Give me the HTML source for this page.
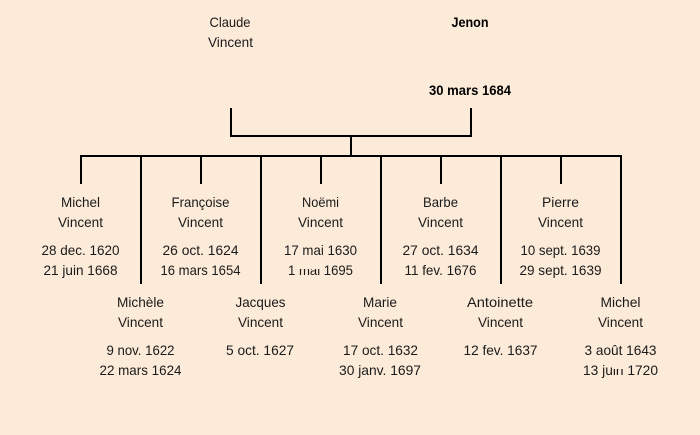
<!DOCTYPE html>
<html><head><meta charset="utf-8">
<style>
html,body{margin:0;padding:0;background:#fcebd9;width:700px;height:435px;overflow:hidden}
svg{display:block}
text{font-family:"Comic Sans MS","Liberation Sans","DejaVu Sans",sans-serif;font-size:14px;fill:#1a1a1a;text-anchor:middle}
.b{font-weight:bold;fill:#000}
</style></head><body>
<svg width="700" height="435" viewBox="0 0 700 435" xmlns="http://www.w3.org/2000/svg">
<rect width="700" height="435" fill="#fcebd9"/>
<g fill="#000">
<rect x="230" y="108" width="2" height="29"/>
<rect x="470" y="108" width="2" height="29"/>
<rect x="230" y="135" width="242" height="2"/>
<rect x="350" y="135" width="2" height="22"/>
<rect x="80" y="155" width="542" height="2"/>
<rect x="80" y="155" width="2" height="29"/>
<rect x="200" y="155" width="2" height="29"/>
<rect x="320" y="155" width="2" height="29"/>
<rect x="440" y="155" width="2" height="29"/>
<rect x="560" y="155" width="2" height="29"/>
<rect x="140" y="155" width="2" height="129"/>
<rect x="260" y="155" width="2" height="129"/>
<rect x="380" y="155" width="2" height="129"/>
<rect x="500" y="155" width="2" height="129"/>
<rect x="620" y="155" width="2" height="129"/>
</g>
<text x="230" y="27" textLength="41" lengthAdjust="spacingAndGlyphs">Claude</text>
<text x="230.5" y="47" textLength="45" lengthAdjust="spacingAndGlyphs">Vincent</text>
<text class="b" x="470" y="27" textLength="37" lengthAdjust="spacingAndGlyphs">Jenon</text>
<text class="b" x="470" y="95" textLength="82" lengthAdjust="spacingAndGlyphs">30 mars 1684</text>

<text x="80.5" y="207" textLength="39" lengthAdjust="spacingAndGlyphs">Michel</text>
<text x="80.5" y="227" textLength="45" lengthAdjust="spacingAndGlyphs">Vincent</text>
<text x="80.5" y="255" textLength="78" lengthAdjust="spacingAndGlyphs">28 dec. 1620</text>
<text x="80.5" y="275" textLength="74" lengthAdjust="spacingAndGlyphs">21 juin 1668</text>

<text x="200.5" y="207" textLength="58" lengthAdjust="spacingAndGlyphs">Françoise</text>
<text x="200.5" y="227" textLength="45" lengthAdjust="spacingAndGlyphs">Vincent</text>
<text x="200.5" y="255" textLength="76" lengthAdjust="spacingAndGlyphs">26 oct. 1624</text>
<text x="200.5" y="275" textLength="80" lengthAdjust="spacingAndGlyphs">16 mars 1654</text>

<text x="320.5" y="207" textLength="37" lengthAdjust="spacingAndGlyphs">Noëmi</text>
<text x="320.5" y="227" textLength="45" lengthAdjust="spacingAndGlyphs">Vincent</text>
<text x="320.5" y="255" textLength="73" lengthAdjust="spacingAndGlyphs">17 mai 1630</text>
<text x="320.5" y="275" textLength="65" lengthAdjust="spacingAndGlyphs">1 mai 1695</text>
<rect x="297" y="263" width="25" height="6" fill="#fcebd9"/>

<text x="440.5" y="207" textLength="35" lengthAdjust="spacingAndGlyphs">Barbe</text>
<text x="440.5" y="227" textLength="45" lengthAdjust="spacingAndGlyphs">Vincent</text>
<text x="440.5" y="255" textLength="76" lengthAdjust="spacingAndGlyphs">27 oct. 1634</text>
<text x="440.5" y="275" textLength="72" lengthAdjust="spacingAndGlyphs">11 fev. 1676</text>

<text x="560.5" y="207" textLength="37" lengthAdjust="spacingAndGlyphs">Pierre</text>
<text x="560.5" y="227" textLength="45" lengthAdjust="spacingAndGlyphs">Vincent</text>
<text x="560.5" y="255" textLength="80" lengthAdjust="spacingAndGlyphs">10 sept. 1639</text>
<text x="560.5" y="275" textLength="82" lengthAdjust="spacingAndGlyphs">29 sept. 1639</text>

<text x="140.5" y="307" textLength="47" lengthAdjust="spacingAndGlyphs">Michèle</text>
<text x="140.5" y="327" textLength="45" lengthAdjust="spacingAndGlyphs">Vincent</text>
<text x="140.5" y="355" textLength="68" lengthAdjust="spacingAndGlyphs">9 nov. 1622</text>
<text x="140.5" y="375" textLength="82" lengthAdjust="spacingAndGlyphs">22 mars 1624</text>

<text x="260.5" y="307" textLength="50" lengthAdjust="spacingAndGlyphs">Jacques</text>
<text x="260.5" y="327" textLength="45" lengthAdjust="spacingAndGlyphs">Vincent</text>
<text x="260" y="355" textLength="68" lengthAdjust="spacingAndGlyphs">5 oct. 1627</text>

<text x="380" y="307" textLength="34" lengthAdjust="spacingAndGlyphs">Marie</text>
<text x="380.5" y="327" textLength="45" lengthAdjust="spacingAndGlyphs">Vincent</text>
<text x="380.5" y="355" textLength="75" lengthAdjust="spacingAndGlyphs">17 oct. 1632</text>
<text x="380" y="375" textLength="82" lengthAdjust="spacingAndGlyphs">30 janv. 1697</text>

<text x="500" y="307" textLength="66" lengthAdjust="spacingAndGlyphs">Antoinette</text>
<text x="500.5" y="327" textLength="45" lengthAdjust="spacingAndGlyphs">Vincent</text>
<text x="500.5" y="355" textLength="74" lengthAdjust="spacingAndGlyphs">12 fev. 1637</text>

<text x="620.5" y="307" textLength="40" lengthAdjust="spacingAndGlyphs">Michel</text>
<text x="620.5" y="327" textLength="45" lengthAdjust="spacingAndGlyphs">Vincent</text>
<text x="620.5" y="355" textLength="72" lengthAdjust="spacingAndGlyphs">3 août 1643</text>
<text x="620.5" y="375" textLength="75" lengthAdjust="spacingAndGlyphs">13 juin 1720</text>
<rect x="612" y="363" width="11" height="6" fill="#fcebd9"/>
</svg>
</body></html>
